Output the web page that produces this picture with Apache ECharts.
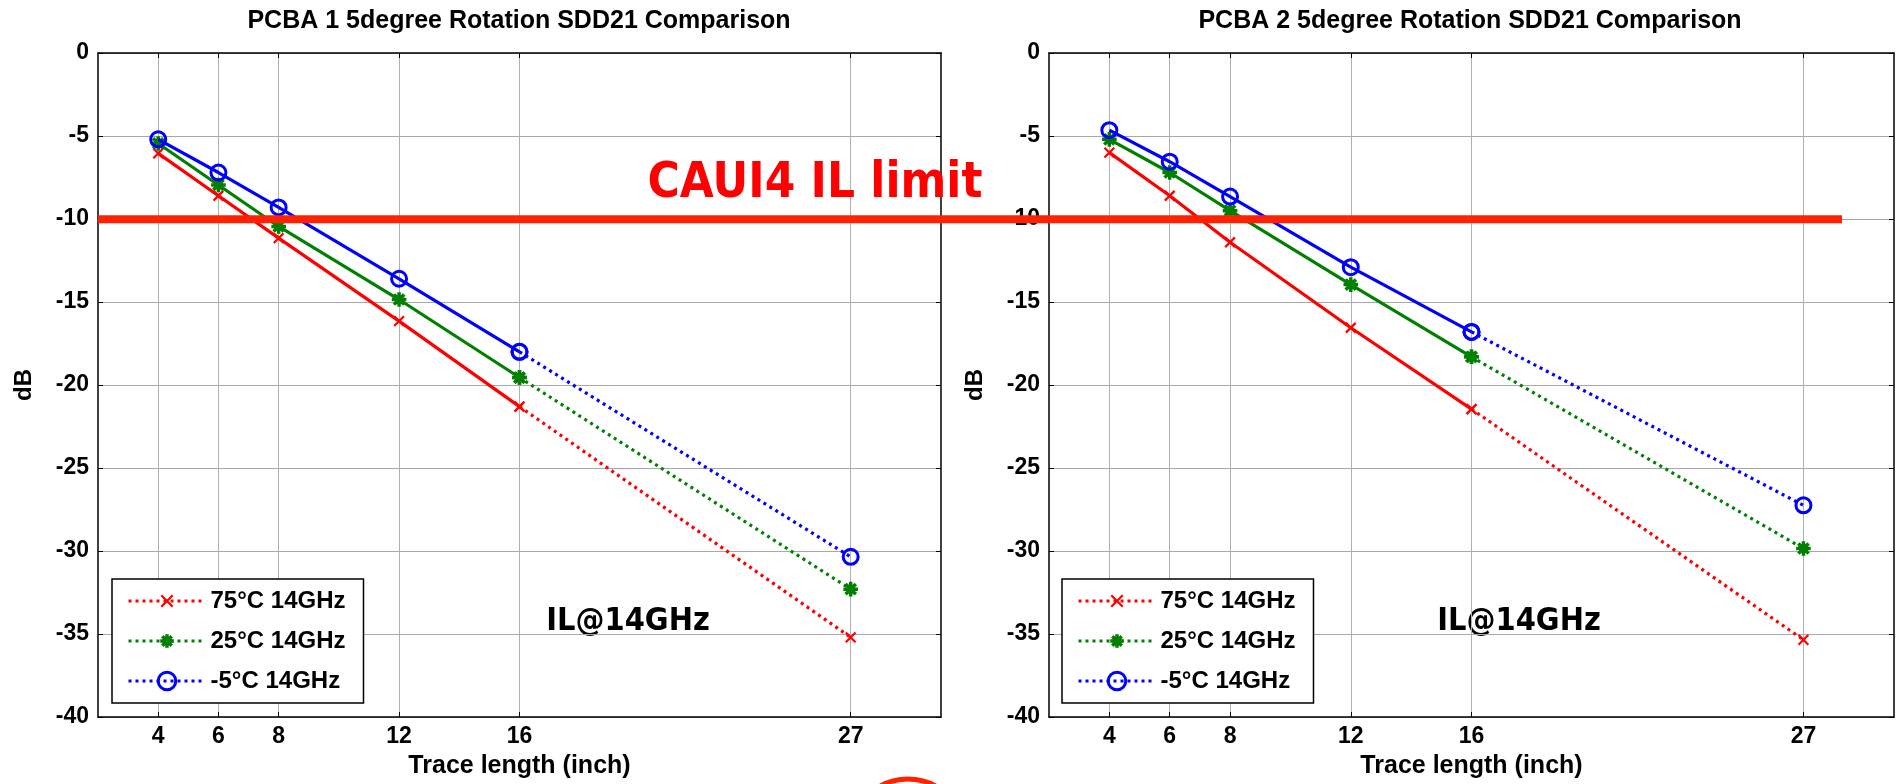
<!DOCTYPE html>
<html lang="en">
<head>
    <meta charset="UTF-8">
    <title>SDD21 Comparison</title>
    <script src="https://cdn.jsdelivr.net/npm/echarts@6.0.0/dist/echarts.min.js"></script>
    <style>
        html, body { margin: 0; padding: 0; background: #fff; }
        #chart { width: 1898px; height: 784px; }
    </style>
</head>
<body>
    <div id="chart"></div>

    <script>
        // trace lengths (inch) and tick positions
        const lengths = [4, 6, 8, 12, 16, 27];
        const xTicks = [4, 6, 8, 12, 16, 27];
        const names = ['75°C 14GHz', '25°C 14GHz', '-5°C 14GHz'];

        // PCBA 1, dB
        const pcba1Hot = [-6.05, -8.6, -11.15, -16.15, -21.3, -35.2];
        const pcba1Room = [-5.45, -7.95, -10.45, -14.85, -19.55, -32.3];
        const pcba1Cold = [-5.2, -7.2, -9.3, -13.6, -18.0, -30.35];

        // PCBA 2, dB
        const pcba2Hot = [-6.0, -8.6, -11.4, -16.55, -21.45, -35.35];
        const pcba2Room = [-5.2, -7.2, -9.5, -13.95, -18.3, -29.85];
        const pcba2Cold = [-4.65, -6.55, -8.65, -12.9, -16.8, -27.25];

        // CAUI4 limit
        const limitDb = [-10];
        const limitSpan = [0, 1];

        const colors = ['#ff0000', '#008000', '#0000ff'];
        // padded paths so the legend icon (fixed size) keeps the marks small
        const symbols = [
            'path://M-2.7,-2.7M12.7,12.7M0,0L10,10M10,0L0,10',
            'path://M-1.5,-1.5M11.5,11.5M5,0L5,10M0,5L10,5M1.5,1.5L8.5,8.5M8.5,1.5L1.5,8.5',
            'circle'
        ];
        const symbolSizes = [15, 19, 15];
        const borderWidths = [2.2, 3.5, 3];

        const font = '"Liberation Sans", Arial, sans-serif';

        function pairs(ys, from, to) {
            const out = [];
            for (let i = from; i < to; i++) out.push([lengths[i], ys[i]]);
            return out;
        }

        function makeSeries(gridIdx, sets, dotted) {
            return sets.map((ys, k) => ({
                type: 'line',
                name: names[k],
                xAxisIndex: gridIdx * 2,
                yAxisIndex: gridIdx * 2,
                data: dotted ? pairs(ys, 4, 6) : pairs(ys, 0, 5),
                symbol: symbols[k],
                symbolSize: symbolSizes[k],
                showAllSymbol: true,
                z: 3 + k,
                lineStyle: { color: colors[k], width: 3.2, type: dotted ? [3, 4] : 'solid' },
                itemStyle: { color: k === 2 ? 'rgba(0,0,0,0)' : colors[k], borderColor: colors[k], borderWidth: borderWidths[k] },
                animation: false
            }));
        }

        function xAxes(gridIdx) {
            return [{
                gridIndex: gridIdx, type: 'value', min: 2, max: 30, position: 'bottom',
                name: 'Trace length (inch)', nameLocation: 'middle', nameGap: 37,
                nameTextStyle: { fontFamily: font, fontWeight: 'bold', fontSize: 25, color: '#000' },
                axisLine: { onZero: false, lineStyle: { color: '#000', width: 1.5 } },
                axisTick: { inside: true, length: 5, customValues: xTicks, lineStyle: { color: '#000' } },
                axisLabel: { customValues: xTicks, fontFamily: font, fontWeight: 'bold', fontSize: 23, color: '#000', margin: 8 },
                splitLine: { show: true, lineStyle: { color: '#b0b0b0', width: 1 } }
            }, {
                gridIndex: gridIdx, type: 'value', min: 2, max: 30, position: 'top',
                axisLine: { onZero: false, lineStyle: { color: '#000', width: 1.5 } },
                axisTick: { inside: true, length: 5, customValues: xTicks, lineStyle: { color: '#000' } },
                axisLabel: { show: false },
                splitLine: { show: false }
            }];
        }

        function yAxes(gridIdx) {
            return [{
                gridIndex: gridIdx, type: 'value', min: -40, max: 0, interval: 5, position: 'left',
                name: 'dB', nameLocation: 'middle', nameGap: 62,
                nameTextStyle: { fontFamily: font, fontWeight: 'bold', fontSize: 24, color: '#000' },
                axisLine: { onZero: false, lineStyle: { color: '#000', width: 1.5 } },
                axisTick: { inside: true, length: 5, lineStyle: { color: '#000' } },
                axisLabel: { fontFamily: font, fontWeight: 'bold', fontSize: 23, color: '#000', margin: 9 },
                splitLine: { show: true, lineStyle: { color: '#a8a8a8', width: 1 } }
            }, {
                gridIndex: gridIdx, type: 'value', min: -40, max: 0, interval: 5, position: 'right',
                axisLine: { onZero: false, lineStyle: { color: '#000', width: 1.5 } },
                axisTick: { inside: true, length: 5, lineStyle: { color: '#000' } },
                axisLabel: { show: false },
                splitLine: { show: false }
            }];
        }

        function legendAt(left) {
            return {
                orient: 'vertical', left: left, top: 579,
                data: names,
                itemWidth: 77, itemHeight: 22, itemGap: 16,
                padding: [10, 18, 10, 15],
                backgroundColor: '#fff', borderColor: '#000', borderWidth: 1.5, borderRadius: 0,
                selectedMode: false,
                textStyle: { fontFamily: font, fontWeight: 'bold', fontSize: 24, color: '#000', lineHeight: 24 },
                itemStyle: { borderWidth: 'inherit' },
                lineStyle: { width: 3 }
            };
        }

        const chart = echarts.init(document.getElementById('chart'));

        const option = {
            backgroundColor: '#fff',
            animation: false,
            grid: [
                { left: 98, top: 53, width: 843, height: 665, show: true, borderWidth: 0, backgroundColor: '#fff' },
                { left: 1049, top: 53, width: 845, height: 665, show: true, borderWidth: 0, backgroundColor: '#fff' },
                { left: 98, top: 53, width: 1744, height: 665 }
            ],
            xAxis: xAxes(0).concat(xAxes(1)).concat([
                { gridIndex: 2, type: 'value', min: limitSpan[0], max: limitSpan[1], show: false }
            ]),
            yAxis: yAxes(0).concat(yAxes(1)).concat([
                { gridIndex: 2, type: 'value', min: -40, max: 0, show: false }
            ]),
            legend: [legendAt(112), legendAt(1062)],
            series: [].concat(
                makeSeries(0, [pcba1Hot, pcba1Room, pcba1Cold], true),
                makeSeries(0, [pcba1Hot, pcba1Room, pcba1Cold], false),
                makeSeries(1, [pcba2Hot, pcba2Room, pcba2Cold], true),
                makeSeries(1, [pcba2Hot, pcba2Room, pcba2Cold], false),
                [{
                    type: 'line', name: 'CAUI4 IL limit', xAxisIndex: 4, yAxisIndex: 4,
                    data: limitSpan.map(x => [x, limitDb[0]]),
                    symbol: 'none', z: 10,
                    lineStyle: { color: '#ff2200', width: 8, cap: 'butt' }
                }]
            ),
            graphic: [
                { type: 'text', x: 519, y: 21, style: { text: 'PCBA 1 5degree Rotation SDD21 Comparison', font: 'bold 25px ' + font, fill: '#000', textAlign: 'center', textVerticalAlign: 'middle' } },
                { type: 'text', x: 1470, y: 21, style: { text: 'PCBA 2 5degree Rotation SDD21 Comparison', font: 'bold 25px ' + font, fill: '#000', textAlign: 'center', textVerticalAlign: 'middle' } },
                { type: 'text', x: 815, y: 184, scaleY: 1.15, z: 20, style: { text: 'CAUI4 IL limit', font: 'bold 44px "DejaVu Sans", sans-serif', fill: '#ff0000', textAlign: 'center', textVerticalAlign: 'middle' } },
                { type: 'text', x: 628, y: 622, scaleY: 1.08, style: { text: 'IL@14GHz', font: 'bold 29px "DejaVu Sans", sans-serif', fill: '#000', textAlign: 'center', textVerticalAlign: 'middle' } },
                { type: 'text', x: 1519, y: 622, scaleY: 1.08, style: { text: 'IL@14GHz', font: 'bold 29px "DejaVu Sans", sans-serif', fill: '#000', textAlign: 'center', textVerticalAlign: 'middle' } },
                { type: 'ellipse', shape: { cx: 908, cy: 822, rx: 50, ry: 43 }, style: { fill: 'none', stroke: '#ff2200', lineWidth: 5 } }
            ]
        };

        chart.setOption(option);
    </script>
</body>
</html>
